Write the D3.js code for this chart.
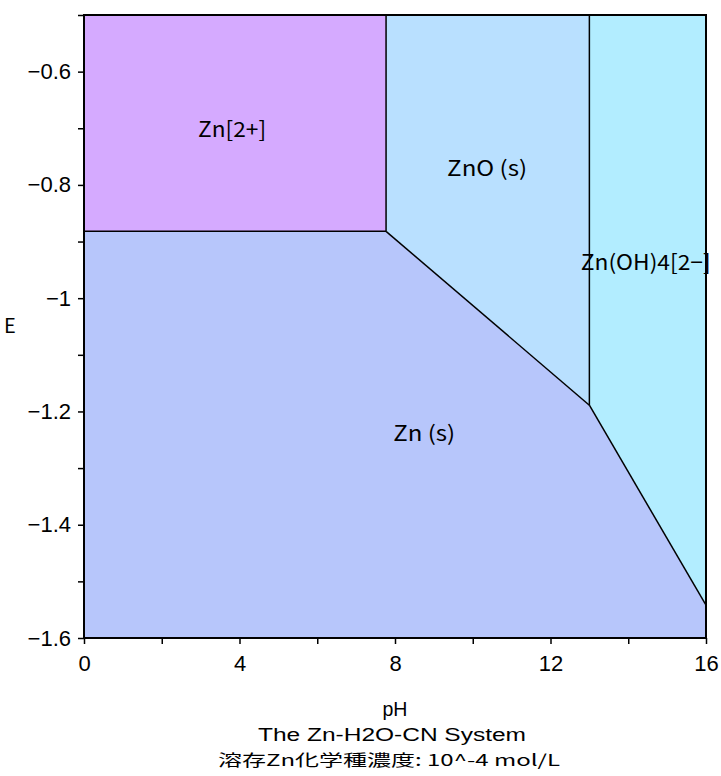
<!DOCTYPE html>
<html><head><meta charset="utf-8">
<script src="https://cdn.jsdelivr.net/npm/d3@7"></script>
<style>body{margin:0;background:#fff}svg{display:block}</style>
</head><body>
<svg id="c" width="721" height="776"></svg>
<script>
// Region names and fill colours
const regionNames = ["Zn (s)", "Zn[2+]", "ZnO (s)", "Zn(OH)4[2−]"];
const regionColors = ["#b7c6fb", "#d5aaff", "#b9e0ff", "#b2edff"];
// Boundary vertices (pH, E) for each region
const znSolid = [[0,-0.882],[7.77,-0.882],[13.0,-1.189],[16,-1.542],[16,-1.6],[0,-1.6]];
const zn2plus = [[0,-0.5],[7.77,-0.5],[7.77,-0.882],[0,-0.882]];
const znO = [[7.77,-0.5],[13.0,-0.5],[13.0,-1.189],[7.77,-0.882]];
const znOH4 = [[13.0,-0.5],[16,-0.5],[16,-1.542],[13.0,-1.189]];
// Boundary lines
const boundaries = [
  [[0,-0.882],[7.77,-0.882]],
  [[7.77,-0.5],[7.77,-0.882]],
  [[7.77,-0.882],[13.0,-1.189]],
  [[13.0,-0.5],[13.0,-1.189]],
  [[13.0,-1.189],[16,-1.542]]
];
// Label anchor positions (pH, E) of text baselines
const labelPos = [[8.75,-1.252],[3.81,-0.716],[10.37,-0.784],[14.45,-0.950]];
const labelWidths = [62, 68, 80, 130];
const xTicks = [0,4,8,12,16];
const yTicks = [-0.6,-0.8,-1,-1.2,-1.4,-1.6];
const xDomain = [0,16], yDomain = [-1.6,-0.5];

const svg = d3.select("#c");
const x = d3.scaleLinear().domain(xDomain).range([84,706]);
const y = d3.scaleLinear().domain(yDomain).range([638,15]);
const line = d3.line().x(d=>x(d[0])).y(d=>y(d[1]));
const polys = [znSolid, zn2plus, znO, znOH4];
svg.selectAll("path.reg").data(polys).join("path").attr("class","reg")
  .attr("d", d=>line(d)+"Z").attr("fill",(d,i)=>regionColors[i]).attr("stroke","none");
svg.selectAll("path.bd").data(boundaries).join("path").attr("class","bd")
  .attr("d", line).attr("fill","none").attr("stroke","#000").attr("stroke-width",1.5);

const lf = "'Noto Sans CJK JP', sans-serif";
svg.selectAll("text.lab").data(regionNames).join("text").attr("class","lab")
  .attr("x",(d,i)=>x(labelPos[i][0])).attr("y",(d,i)=>y(labelPos[i][1]))
  .attr("text-anchor","middle")
  .attr("textLength",(d,i)=>labelWidths[i]).attr("lengthAdjust","spacingAndGlyphs")
  .attr("font-family",lf).attr("font-size",21).text(d=>d);

// frame
svg.append("rect").attr("x",84).attr("y",15).attr("width",622).attr("height",623)
  .attr("fill","none").attr("stroke","#000").attr("stroke-width",2);

const af = "'Liberation Sans', Arial, sans-serif";
const xAxis = d3.axisBottom(x).tickValues(d3.range(0,16.01,2)).tickSize(6)
  .tickFormat(d=> xTicks.includes(d) ? d3.format("d")(d) : "");
const gx = svg.append("g").attr("transform","translate(0,638)").call(xAxis);
gx.select(".domain").remove();
gx.selectAll("line").attr("stroke-width",1.5);
gx.selectAll("text").attr("font-family",af).attr("font-size",22).attr("y",17).attr("dy","0.71em").attr("fill","#000");

const fmtY = d=> { const s = d3.format("")(+d.toFixed(1)); return s.replace("-","−"); };
const yAxis = d3.axisLeft(y).tickValues(d3.range(-1.6,-0.49,0.1).map(v=>+v.toFixed(1))).tickSize(6)
  .tickFormat(d=> yTicks.some(t=>Math.abs(t-d)<1e-9) ? fmtY(d) : "");
const gy = svg.append("g").attr("transform","translate(84,0)").call(yAxis);
gy.select(".domain").remove();
gy.selectAll("line").attr("stroke-width",1.5);
gy.selectAll("text").attr("font-family",af).attr("font-size",22).attr("fill","#000").attr("x",-13);

svg.append("text").attr("x",10).attr("y",333).attr("text-anchor","middle")
  .attr("font-family",lf).attr("font-size",20).text("E");
svg.append("text").attr("x",395).attr("y",716).attr("text-anchor","middle")
  .attr("textLength",25).attr("lengthAdjust","spacingAndGlyphs")
  .attr("font-family",af).attr("font-size",20).text("pH");
svg.append("text").attr("x",392).attr("y",741).attr("text-anchor","middle")
  .attr("textLength",268).attr("lengthAdjust","spacingAndGlyphs")
  .attr("font-family",af).attr("font-size",18).text("The Zn-H2O-CN System");
svg.append("text").attr("x",389).attr("y",766).attr("text-anchor","middle")
  .attr("textLength",342).attr("lengthAdjust","spacingAndGlyphs")
  .attr("font-family",lf).attr("font-size",16).text("溶存Zn化学種濃度: 10^-4 mol/L");
</script>
</body></html>
